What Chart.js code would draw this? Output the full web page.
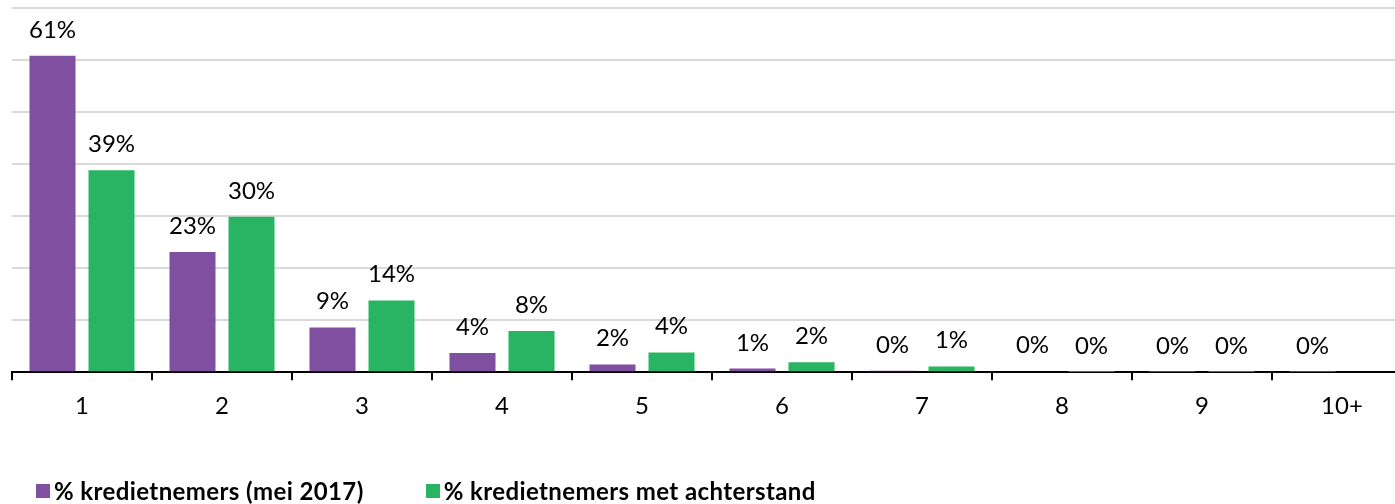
<!DOCTYPE html>
<html lang="nl">
<head>
    <meta charset="UTF-8">
    <title>Kredietnemers</title>
    <script src="https://cdn.jsdelivr.net/npm/chart.js"></script>
    <style>
        body { margin: 0; background: #fff; overflow: hidden; }
        #wrap { position: relative; width: 1395px; height: 504px; overflow: hidden; }
        #myChart { position: absolute; left: 0; top: 0; }
        #legend { position: absolute; left: 36px; top: 476px; display: flex; font: bold 24px Lato, sans-serif; letter-spacing: 0.4px; color: #000; }
        #legend .item { display: flex; align-items: center; }
        #legend .box { width: 14px; height: 14px; margin-right: 4px; }
    </style>
</head>
<body>
<div id="wrap">
    <canvas id="myChart" width="1420" height="504"></canvas>
    <div id="legend"></div>
</div>
<script>
    // aantal kredieten per kredietnemer
    const categories = ['1', '2', '3', '4', '5', '6', '7', '8', '9', '10+'];
    const seriesNames = ['% kredietnemers (mei 2017)', '% kredietnemers met achterstand'];
    const seriesColors = ['#8050A0', '#28B463'];
    const allBorrowers = [60.8, 23.1, 8.6, 3.7, 1.5, 0.7, 0.3, 0.2, 0.05, 0.05];
    const withArrears = [38.8, 29.9, 13.8, 7.9, 3.8, 1.9, 1.1, 0.05, 0.05, null];

    const labelFont = '24px Lato, sans-serif';

    // percentages boven de staven
    const barLabels = {
        id: 'barLabels',
        afterDatasetsDraw(chart) {
            const ctx = chart.ctx;
            ctx.save();
            ctx.font = labelFont;
            ctx.fillStyle = '#000';
            ctx.textAlign = 'center';
            ctx.textBaseline = 'alphabetic';
            chart.data.datasets.forEach((ds, i) => {
                chart.getDatasetMeta(i).data.forEach((bar, j) => {
                    const v = ds.data[j];
                    if (v === null) return;
                    ctx.fillText(Math.round(v) + '%', bar.x, bar.y - 18);
                });
            });
            ctx.restore();
        }
    };

    const ctx = document.getElementById('myChart').getContext('2d');
    const myChart = new Chart(ctx, {
        type: 'bar',
        data: {
            labels: categories,
            datasets: [
                { label: seriesNames[0], data: allBorrowers, backgroundColor: seriesColors[0] },
                { label: seriesNames[1], data: withArrears, backgroundColor: seriesColors[1] }
            ]
        },
        options: {
            responsive: false,
            animation: false,
            categoryPercentage: 0.843,
            barPercentage: 0.78,
            layout: { padding: { left: 12, right: 8, top: 8, bottom: 71 } },
            plugins: {
                legend: { display: false },
                tooltip: { enabled: false }
            },
            scales: {
                x: {
                    grid: { drawOnChartArea: false, drawTicks: true, tickLength: 8, color: '#000', lineWidth: 2 },
                    border: { display: true, color: '#000', width: 2 },
                    ticks: { color: '#000', font: { family: 'Lato, sans-serif', size: 24 }, padding: 12 }
                },
                y: {
                    min: 0,
                    max: 70,
                    ticks: { display: false, stepSize: 10 },
                    border: { display: false },
                    grid: {
                        drawTicks: false,
                        lineWidth: 2,
                        color: c => c.tick.value === 0 ? 'rgba(0,0,0,0)' : '#d9d9d9'
                    }
                }
            }
        },
        plugins: [barLabels]
    });

    // legenda onder de grafiek
    const legend = document.getElementById('legend');
    const gaps = [0, 62];
    seriesNames.forEach((name, i) => {
        const item = document.createElement('div');
        item.className = 'item';
        item.style.marginLeft = gaps[i] + 'px';
        const box = document.createElement('span');
        box.className = 'box';
        box.style.background = seriesColors[i];
        item.appendChild(box);
        item.appendChild(document.createTextNode(name));
        legend.appendChild(item);
    });
</script>
</body>
</html>
